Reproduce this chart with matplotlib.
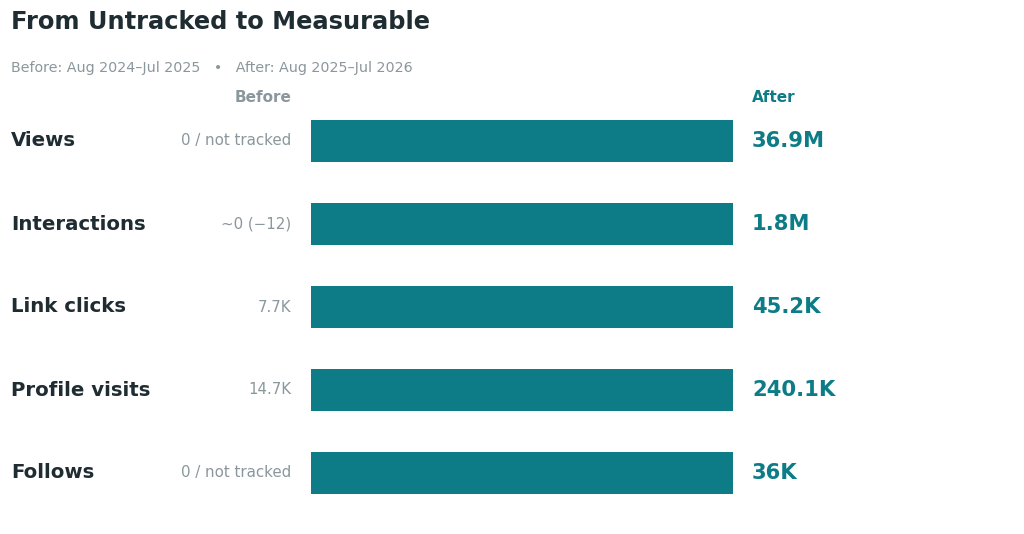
import matplotlib
matplotlib.use("Agg")
import matplotlib.pyplot as plt
from matplotlib.transforms import blended_transform_factory

plt.rcParams["font.family"] = ["DejaVu Sans"]

categories = ["Views", "Interactions", "Link clicks", "Profile visits", "Follows"]
before_labels = ["0 / not tracked", "~0 (\u221212)", "7.7K", "14.7K", "0 / not tracked"]
after_labels = ["36.9M", "1.8M", "45.2K", "240.1K", "36K"]
bar_share = [1.0, 1.0, 1.0, 1.0, 1.0]

TEAL = "#0e7c86"
DARK = "#1f2d33"
GRAY = "#8a979c"

W, H = 1024, 534
fig = plt.figure(figsize=(W / 100, H / 100), dpi=100)
ax = fig.add_axes([311 / W, (H - 514.5) / H, 422 / W, 415 / H])
y = list(range(len(categories)))
ax.barh(y, bar_share, height=0.5, color=TEAL, left=0)
ax.set_xlim(0, 1)
ax.set_ylim(len(categories) - 0.5, -0.5)
ax.axis("off")

tr = blended_transform_factory(fig.transFigure, ax.transData)
for i, (c, b, a) in enumerate(zip(categories, before_labels, after_labels)):
    ax.text(11 / W, i, c, transform=tr, ha="left", va="center",
            fontsize=14.2, fontweight="bold", color=DARK)
    ax.text(291 / W, i, b, transform=tr, ha="right", va="center",
            fontsize=10.8, color=GRAY)
    ax.text(752 / W, i, a, transform=tr, ha="left", va="center",
            fontsize=15.2, fontweight="bold", color=TEAL)

fig.text(11 / W, 1 - 22 / H, "From Untracked to Measurable", ha="left", va="center",
         fontsize=17.4, fontweight="bold", color=DARK)
fig.text(11 / W, 1 - 68 / H,
         "Before: Aug 2024\u2013Jul 2025   \u2022   After: Aug 2025\u2013Jul 2026",
         ha="left", va="center", fontsize=10.25, color=GRAY)
fig.text(291 / W, 1 - 98 / H, "Before", ha="right", va="center",
         fontsize=11, fontweight="bold", color=GRAY)
fig.text(752 / W, 1 - 98 / H, "After", ha="left", va="center",
         fontsize=11, fontweight="bold", color=TEAL)

fig.savefig("out.png", dpi=100, facecolor="white")
